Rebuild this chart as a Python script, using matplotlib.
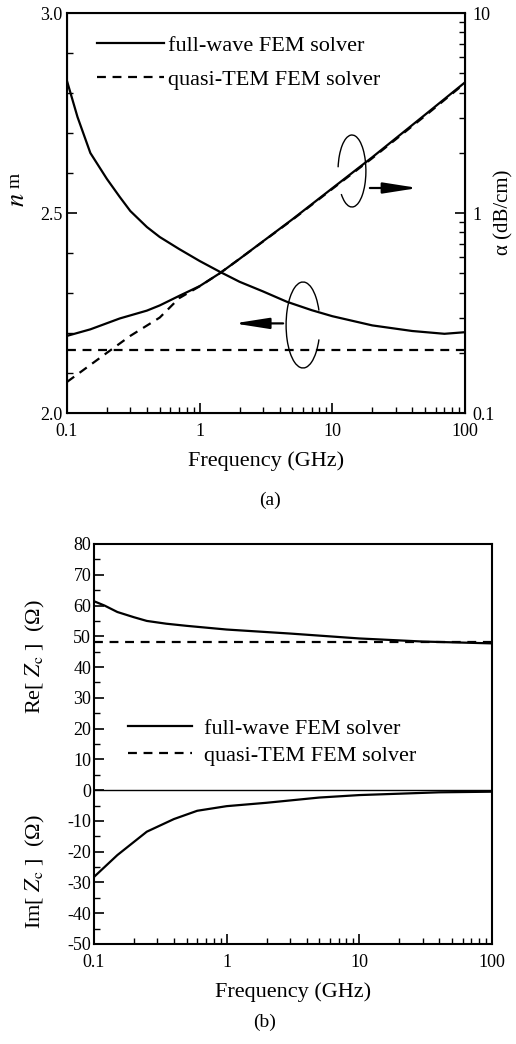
import numpy as np
import matplotlib
matplotlib.use("Agg")
import matplotlib.pyplot as plt
from matplotlib.patches import Arc
from matplotlib.ticker import MultipleLocator, FuncFormatter, LogLocator, FixedLocator, NullFormatter

plt.rcParams['font.family'] = ['Liberation Serif', 'DejaVu Serif']
plt.rcParams['mathtext.fontset'] = 'stix'
plt.rcParams['axes.unicode_minus'] = False

# (a) effective index n_m
f_n = [0.1, 0.12, 0.15, 0.2, 0.25, 0.3, 0.4, 0.5, 0.7, 1, 1.42, 2, 3, 4.55, 7, 10, 20, 40, 70, 100]
n_full = [2.83, 2.74, 2.65, 2.585, 2.54, 2.505, 2.465, 2.44, 2.41, 2.38, 2.353, 2.328, 2.304, 2.278,
          2.257, 2.242, 2.219, 2.205, 2.198, 2.202]
f_n_qt = [0.1, 100]
n_quasi = [2.158, 2.158]

# (a) attenuation alpha (dB/cm)
f_a = [0.1, 0.15, 0.25, 0.4, 0.5, 0.7, 1, 1.42, 2, 5, 10, 20, 50, 100]
a_full = [0.243, 0.262, 0.297, 0.325, 0.345, 0.385, 0.431, 0.50, 0.59, 0.93, 1.33, 1.9, 3.1, 4.5]
f_a_qt = [0.1, 0.15, 0.2, 0.3, 0.5, 0.7, 1, 1.42, 2, 5, 10, 20, 50, 100]
a_quasi = [0.143, 0.174, 0.2, 0.243, 0.30, 0.375, 0.43, 0.50, 0.59, 0.925, 1.32, 1.88, 3.06, 4.46]

# (b) characteristic impedance
f_re = [0.1, 0.12, 0.15, 0.2, 0.25, 0.35, 0.5, 1, 3, 10, 30, 100]
re_full = [61.4, 60.0, 57.9, 56.2, 55.0, 54.1, 53.4, 52.2, 50.9, 49.3, 48.3, 47.7]
f_re_qt = [0.1, 100]
re_quasi = [48.2, 48.2]
f_im = [0.1, 0.15, 0.25, 0.4, 0.6, 1, 2, 5, 10, 40, 100]
im_full = [-28.2, -21.1, -13.5, -9.4, -6.7, -5.2, -4.1, -2.4, -1.6, -0.7, -0.5]

lw = 1.6
dash = (4, 3)
tick_fs = 13
lab_fs = 16

fig = plt.figure(figsize=(5.16, 10.44), dpi=100)
W, H = 516, 1044

def ax_rect(l, t, r, b):
    return [l / W, 1 - b / H, (r - l) / W, (b - t) / H]

xfmt = FuncFormatter(lambda v, p: '%g' % v)

# ---------- (a) ----------
ax = fig.add_axes(ax_rect(67, 13, 465, 413))
ax.set_xscale('log')
ax.set_xlim(0.1, 100)
ax.set_ylim(2.0, 3.0)
l1, = ax.plot(f_n, n_full, 'k-', lw=lw, label='full-wave FEM solver')
l2, = ax.plot(f_n_qt, n_quasi, 'k--', lw=lw, dashes=dash, label='quasi-TEM FEM solver')
ax.yaxis.set_major_locator(FixedLocator([2.0, 2.5, 3.0]))
ax.yaxis.set_major_formatter(FuncFormatter(lambda v, p: '%.1f' % v))
ax.yaxis.set_minor_locator(MultipleLocator(0.1))
ax.xaxis.set_major_formatter(xfmt)
ax.xaxis.set_minor_formatter(NullFormatter())
ax.tick_params(which='both', direction='in', labelsize=tick_fs, top=False, right=False)
ax.tick_params(which='major', length=7, width=1.2)
ax.tick_params(which='minor', length=4, width=1)
ax.tick_params(axis='x', pad=7)
ax.tick_params(axis='y', pad=3)
ax.set_xlabel('Frequency (GHz)', fontsize=lab_fs, labelpad=8)
for s in ax.spines.values():
    s.set_linewidth(1.5)

ax2 = ax.twinx()
ax2.set_yscale('log')
ax2.set_ylim(0.1, 10)
ax2.plot(f_a, a_full, 'k-', lw=lw)
ax2.plot(f_a_qt, a_quasi, 'k--', lw=lw, dashes=dash)
ax2.yaxis.set_major_formatter(xfmt)
ax2.yaxis.set_minor_locator(LogLocator(base=10, subs=np.arange(2, 10)))
ax2.yaxis.set_minor_formatter(NullFormatter())
ax2.tick_params(which='both', direction='in', labelsize=tick_fs)
ax2.tick_params(which='major', length=7, width=1.2, pad=5)
ax2.tick_params(which='minor', length=4, width=1)

ax.legend(handles=[l1, l2], loc='upper left', bbox_to_anchor=(0.075, 0.945), frameon=False,
          fontsize=lab_fs, handlelength=3.0, handletextpad=0.2, labelspacing=0.62,
          borderpad=0, borderaxespad=0)

# annotations: arcs with arrows
ax.add_patch(Arc((0.716, 0.605), 0.07, 0.18, theta1=-115, theta2=165,
                 transform=ax.transAxes, lw=1.0, color='k'))
ax.annotate('', xy=(0.882, 0.5625), xytext=(0.761, 0.5625), xycoords='axes fraction',
            arrowprops=dict(arrowstyle='-|>,head_length=1.4,head_width=0.22', lw=1.6,
                            color='k', shrinkA=0, shrinkB=0, mutation_scale=15))
ax.add_patch(Arc((0.593, 0.22), 0.085, 0.215, theta1=42, theta2=318,
                 transform=ax.transAxes, lw=1.0, color='k'))
ax.annotate('', xy=(0.42, 0.224), xytext=(0.543, 0.224), xycoords='axes fraction',
            arrowprops=dict(arrowstyle='-|>,head_length=1.4,head_width=0.22', lw=1.6,
                            color='k', shrinkA=0, shrinkB=0, mutation_scale=15))

fig.text(18 / W, 1 - 200 / H, r'$n$', fontsize=19, rotation=90, ha='center', va='center')
fig.text(15 / W, 1 - 180 / H, r'm', fontsize=14, rotation=90, ha='center', va='center')
fig.text(504 / W, 1 - 212 / H, r'α (dB/cm)', fontsize=15, rotation=90, ha='center', va='center')
fig.text(270 / W, 1 - 500 / H, '(a)', fontsize=14, ha='center', va='center')

# ---------- (b) ----------
bx = fig.add_axes(ax_rect(94, 544, 492, 944))
bx.set_xscale('log')
bx.set_xlim(0.1, 100)
bx.set_ylim(-50, 80)
m1, = bx.plot(f_re, re_full, 'k-', lw=lw, label='full-wave FEM solver')
m2, = bx.plot(f_re_qt, re_quasi, 'k--', lw=lw, dashes=dash, label='quasi-TEM FEM solver')
bx.plot(f_im, im_full, 'k-', lw=lw)
bx.axhline(0, color='k', lw=1.0)
bx.yaxis.set_major_locator(MultipleLocator(10))
bx.yaxis.set_minor_locator(MultipleLocator(5))
bx.xaxis.set_major_formatter(xfmt)
bx.xaxis.set_minor_formatter(NullFormatter())
bx.tick_params(which='both', direction='in', labelsize=tick_fs, top=False, right=False)
bx.tick_params(which='major', length=7, width=1.2)
bx.tick_params(which='minor', length=4, width=1)
bx.tick_params(axis='x', pad=7)
bx.tick_params(axis='y', pad=2)
bx.set_xlabel('Frequency (GHz)', fontsize=lab_fs, labelpad=8)
for s in bx.spines.values():
    s.set_linewidth(1.5)

bx.legend(handles=[m1, m2], loc='upper left', bbox_to_anchor=(0.085, 0.565), frameon=False,
          fontsize=lab_fs, handlelength=2.9, handletextpad=0.55, labelspacing=0.32,
          borderpad=0, borderaxespad=0)

fig.text(35 / W, 1 - 657 / H, r'Re[ $Z_{\rm c}$ ]  (Ω)', fontsize=lab_fs, rotation=90, ha='center', va='center')
fig.text(35 / W, 1 - 872 / H, r'Im[ $Z_{\rm c}$ ]  (Ω)', fontsize=lab_fs, rotation=90, ha='center', va='center')
fig.text(265 / W, 1 - 1022 / H, '(b)', fontsize=14, ha='center', va='center')

fig.savefig('out.png', dpi=100)
